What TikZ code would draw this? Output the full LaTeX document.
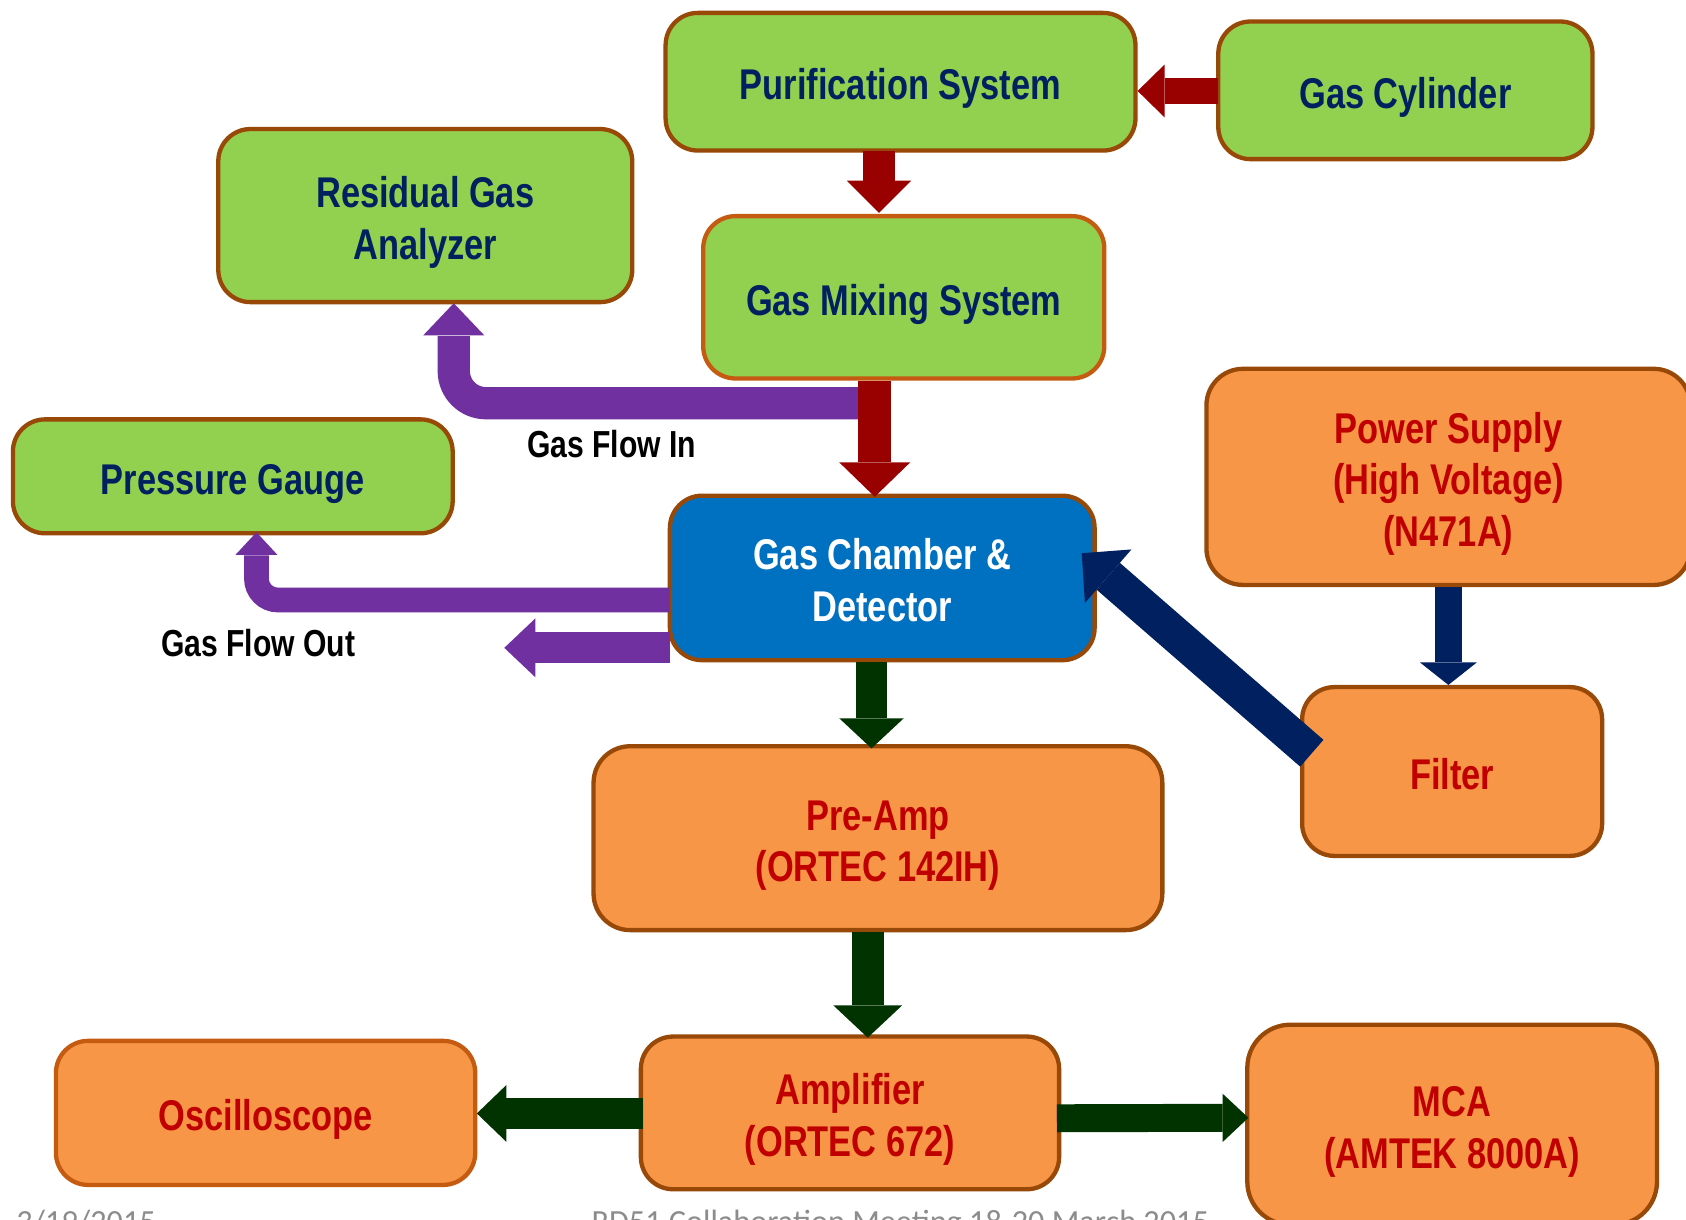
\documentclass[tikz,border=0pt]{standalone}
\usepackage{fontspec}
\setmainfont{Liberation Sans}[FakeStretch=0.8]
\newfontfamily\footfont{Carlito}
\usetikzlibrary{calc}
\definecolor{boxgreen}{HTML}{92D050}
\definecolor{boxorange}{HTML}{F79646}
\definecolor{boxblue}{HTML}{0070C0}
\definecolor{edgedark}{HTML}{984807}
\definecolor{edgelight}{HTML}{C55A11}
\definecolor{navytext}{HTML}{002060}
\definecolor{redtext}{HTML}{C00000}
\definecolor{arrred}{HTML}{990000}
\definecolor{arrpurple}{HTML}{7030A0}
\definecolor{arrnavy}{HTML}{002060}
\definecolor{arrgreen}{HTML}{003300}
\definecolor{footgray}{HTML}{8C8C8C}
\newcommand\topstrut{\rule{0pt}{42pt}}
% #1 start, #2 tip, #3 shaft width, #4 head half width, #5 head length, #6 colour
\newcommand\fatarrow[6]{%
  \coordinate (fas) at #1;
  \coordinate (fat) at #2;
  \coordinate (fab) at ($(fat)!#5!(fas)$);
  \draw[#6, line width=#3] (fas) -- (fab);
  \fill[#6] (fat) -- ($(fab)!#4!90:(fat)$) -- ($(fab)!#4!-90:(fat)$) -- cycle;
}
% #1 base, #2 tip, #3 half width, #4 colour
\newcommand\fathead[4]{%
  \fill[#4] #2 -- ($#1!#3!90:#2$) -- ($#1!#3!-90:#2$) -- cycle;
}
\tikzset{
  box/.style={draw, line width=4pt, rounded corners=30pt, inner sep=0pt, align=center,
    font=\fontsize{40}{48}\selectfont\bfseries,
    execute at begin node={\topstrut},
    execute at end node={\rule[-9pt]{0pt}{9pt}}},
  gbox/.style={box, fill=boxgreen, draw=edgedark, text=navytext},
  obox/.style={box, fill=boxorange, draw=edgedark, text=redtext},
  lbl/.style={font=\fontsize{35}{42}\selectfont\bfseries, inner sep=0pt, text=black},
  foot/.style={font=\footfont\fontsize{30}{36}\selectfont, text=footgray, inner sep=0pt, anchor=base west},
}
\begin{document}
\begin{tikzpicture}[x=1pt,y=-1pt]
\useasboundingbox (0,0) rectangle (1568,1134);
\clip (0,0) rectangle (1568,1134);
\fill[white] (0,0) rectangle (1568,1134);

% boxes
\node[gbox, minimum width=437pt, minimum height=128pt] (pur) at (837.5,76) {Purification System};
\node[gbox, minimum width=348pt, minimum height=128pt] (cyl) at (1307,84) {Gas Cylinder};
\node[gbox, minimum width=385pt, minimum height=161pt] (rga) at (395.5,200.5) {\topstrut Residual Gas\\Analyzer};
\node[gbox, draw=edgelight, minimum width=373pt, minimum height=151pt] (mix) at (840.5,276.5) {Gas Mixing System};
\node[gbox, minimum width=409pt, minimum height=106pt] (pg) at (216.5,443) {Pressure Gauge};
\node[obox, minimum width=450pt, minimum height=201pt, rounded corners=34pt] (ps) at (1347,443.5) {\topstrut Power Supply\\(High Voltage)\\(N471A)};
\node[box, fill=boxblue, draw=edgedark, text=white, minimum width=395pt, minimum height=153pt] (ch) at (820.5,537.5) {\topstrut Gas Chamber \&\\Detector};
\node[obox, minimum width=279pt, minimum height=157pt] (fil) at (1350.5,717.5) {Filter};
\node[obox, minimum width=529pt, minimum height=171pt, rounded corners=34pt] (pre) at (816.5,779.5) {\topstrut Pre-Amp\\(ORTEC 142IH)};
\node[obox, draw=edgelight, minimum width=390pt, minimum height=134pt] (osc) at (247,1035) {Oscilloscope};
\node[obox, minimum width=389pt, minimum height=142pt] (amp) at (790.5,1035) {\topstrut Amplifier\\(ORTEC 672)};
\node[obox, minimum width=381pt, minimum height=186pt, rounded corners=40pt] (mca) at (1350.5,1046) {\topstrut MCA\\(AMTEK 8000A)};

% labels
\node[lbl] (lin) at (569,413) {Gas Flow In};
\node[lbl] (lout) at (240,598) {Gas Flow Out};

% gas supply arrows
\fatarrow{($(cyl.west)+(2,0.6)$)}{($(pur.east)+(0,8.6)$)}{24pt}{24.5pt}{25pt}{arrred}
\fatarrow{($(pur.south)+(-20,-2)$)}{($(mix.north)+(-23,-1)$)}{29pt}{30pt}{30pt}{arrred}

% gas flow in
\draw[arrpurple, line width=30pt, rounded corners=30pt]
  ($(mix.south)+(-41.5,21)$) -| ($(rga.south)+(26.5,29.5)$);
\fathead{($(rga.south)+(26.5,29)$)}{($(rga.south)+(26.5,-1)$)}{28.5pt}{arrpurple}
\fatarrow{($(mix.south)+(-27,0)$)}{($(ch.north)+(-7,3)$)}{31pt}{33pt}{32pt}{arrred}

% gas flow out
\draw[arrpurple, line width=23pt, rounded corners=20pt]
  ($(ch.west)+(2,20.5)$) -| ($(pg.south)+(22,18.5)$);
\fathead{($(pg.south)+(22,18)$)}{($(pg.south)+(22,-3)$)}{19.5pt}{arrpurple}
\fatarrow{($(ch.west)+(2,65)$)}{($(ch.west)+(-152,65)$)}{29pt}{27.5pt}{29pt}{arrpurple}

% high voltage
\fatarrow{(ps.south)}{(fil.north -| ps.south)}{25pt}{26.5pt}{21pt}{arrnavy}
\fatarrow{($(fil.west)+(11,-17)$)}{($(ch.east)+(-14,-23)$)}{33pt}{33pt}{32.6pt}{arrnavy}

% signal chain
\fatarrow{($(ch.south)+(-10,0)$)}{($(pre.north)+(-6,4)$)}{29pt}{30pt}{28pt}{arrgreen}
\fatarrow{($(pre.south)+(-9.5,0)$)}{($(amp.north)+(16.5,3)$)}{30pt}{32pt}{30pt}{arrgreen}
\fatarrow{($(amp.west)+(4,0.5)$)}{($(osc.east)+(-0.5,0.5)$)}{29pt}{26.5pt}{27.5pt}{arrgreen}
\fatarrow{($(amp.east)+(-4,5)$)}{($(mca.west)+(3,-6.5)$)}{26pt}{22.5pt}{24pt}{arrgreen}

% footer (cut off at the bottom edge, as in the slide)
\node[foot] (date) at (15,1146) {3/19/2015};
\node[foot] (meet) at (550,1146) {RD51 Collaboration Meeting 18-20 March 2015};
\end{tikzpicture}
\end{document}
